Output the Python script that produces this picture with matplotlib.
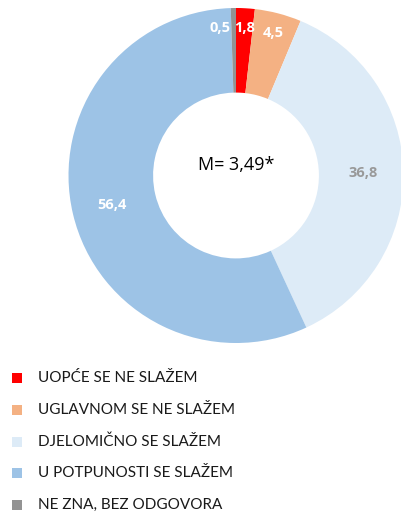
import matplotlib.pyplot as plt
from matplotlib.patches import Rectangle
import numpy as np

categories = [
    "UOPĆE SE NE SLAŽEM",
    "UGLAVNOM SE NE SLAŽEM",
    "DJELOMIČNO SE SLAŽEM",
    "U POTPUNOSTI SE SLAŽEM",
    "NE ZNA, BEZ ODGOVORA",
]
values = [1.8, 4.5, 36.8, 56.4, 0.5]
value_labels = ["1,8", "4,5", "36,8", "56,4", "0,5"]
center_text = "M= 3,49*"

colors = ["#FF0000", "#F4B183", "#DDEBF7", "#9DC3E6", "#939393"]
label_colors = ["white", "white", "#999999", "white", "white"]

W, H = 402, 517
fig = plt.figure(figsize=(W / 100, H / 100), dpi=100)

# donut placed by pixel: centre (236, 175.5 from top), radius 167.5
cx, cy, r = 236, 175.5, 167.5
ax = fig.add_axes([(cx - r) / W, (H - cy - r) / H, 2 * r / W, 2 * r / H])
wedges, _ = ax.pie(
    values,
    colors=colors,
    startangle=90,
    counterclock=False,
    radius=1.0,
    wedgeprops=dict(width=0.505, edgecolor="none"),
)
for w in wedges:
    w.set_clip_on(False)
ax.set_xlim(-1, 1)
ax.set_ylim(-1, 1)
ax.axis("off")

# value labels
cum = np.cumsum([0] + values[:-1])
for i, v in enumerate(values):
    mid = (cum[i] + v / 2) / 100 * 2 * np.pi
    rr = 0.76 if v > 10 else 0.88
    x = rr * np.sin(mid)
    y = rr * np.cos(mid)
    if i == 4:
        x -= 0.08  # excel pushes the tiny label aside
    ax.text(x, y, value_labels[i], ha="center", va="center",
            fontsize=10.5, fontweight="bold", color=label_colors[i],
            family="Open Sans")

ax.text(0, 0.06, center_text, ha="center", va="center", fontsize=13,
        color="black", family="Open Sans")

# legend drawn by hand
row_y = [378, 410, 442, 473, 505]
for i, lab in enumerate(categories):
    y = row_y[i]
    fig.add_artist(Rectangle((12 / W, (H - y - 5) / H), 10 / W, 10 / H,
                             transform=fig.transFigure,
                             facecolor=colors[i], edgecolor="none"))
    fig.text(38 / W, (H - y) / H, lab, ha="left", va="center",
             fontsize=11, color="#1a1a1a", family="Lato")

fig.savefig("out.png", dpi=100)
